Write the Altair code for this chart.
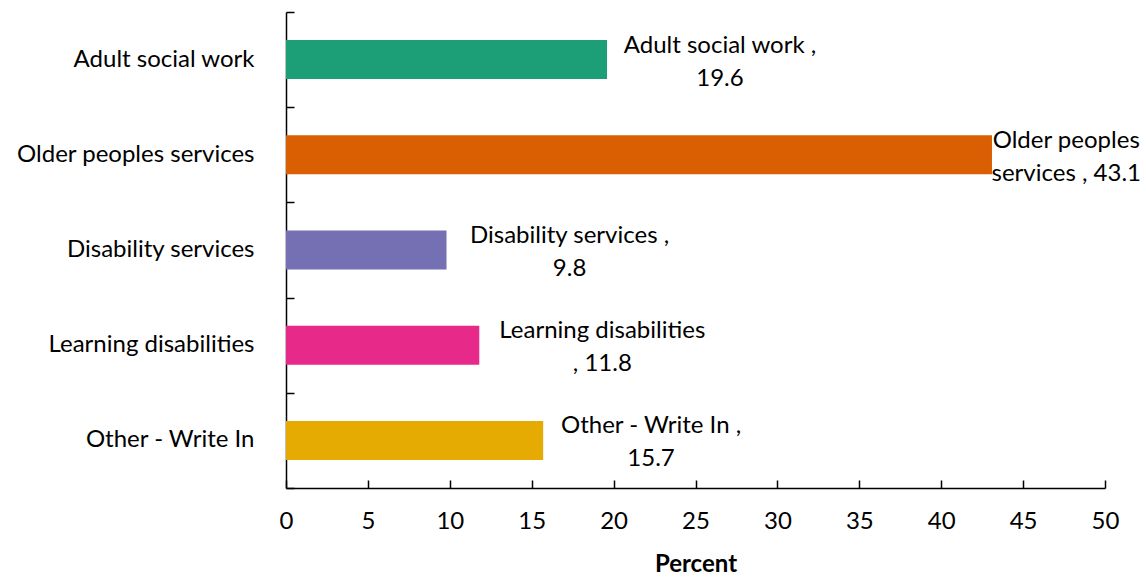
import altair as alt
import pandas as pd

categories = ["Adult social work", "Older peoples services", "Disability services",
              "Learning disabilities", "Other - Write In"]
values = [19.6, 43.1, 9.8, 11.8, 15.7]
label_line1 = ["Adult social work ,", "Older peoples", "Disability services ,",
               "Learning disabilities", "Other - Write In ,"]
label_line2 = ["19.6", "services , 43.1", "9.8", ", 11.8", "15.7"]
colors = ["#1c9e77", "#d95f02", "#7570b3", "#e7298a", "#e6ab02"]
x_ticks = [0, 5, 10, 15, 20, 25, 30, 35, 40, 45, 50]

FONT = "Lato"
FS = 24
W, H = 819, 476
PPU = W / 50.0  # pixels per percent unit
CHARW = 10.1    # estimated label character width in px

df = pd.DataFrame({"cat": categories, "value": values,
                   "line1": label_line1, "line2": label_line2})

yscale = alt.Scale(domain=categories, paddingInner=0, paddingOuter=0)
xscale = alt.Scale(domain=[0, 50], nice=False, clamp=False)

base = alt.Chart(df)

bars = base.mark_bar(size=39).encode(
    y=alt.Y("cat:N", sort=categories, scale=yscale,
            axis=alt.Axis(title=None, domain=True, domainColor="#000000", domainWidth=1.5,
                          ticks=False, tickSize=0, labelPadding=32, labelFontSize=FS,
                          labelFont=FONT, labelColor="#000000", labelLimit=400)),
    x=alt.X("value:Q", scale=xscale,
            axis=alt.Axis(values=x_ticks, title="Percent", grid=False, ticks=False, tickSize=0,
                          domain=True, domainColor="#000000", domainWidth=1.5,
                          labelFlush=False, labelOverlap=False,
                          labelPadding=21, labelFontSize=FS, labelFont=FONT,
                          labelColor="#000000", titleFont=FONT, titleFontSize=FS,
                          titleFontWeight="bold", titleColor="#000000", titlePadding=19)),
    color=alt.Color("cat:N", scale=alt.Scale(domain=categories, range=colors), legend=None),
)

tick_layer = base.mark_bar(size=39, opacity=0).encode(
    y=alt.Y("cat:N", sort=categories, scale=yscale,
            axis=alt.Axis(orient="left", offset=-8, title=None, labels=False, domain=False,
                          ticks=True, tickSize=8, tickBand="extent", tickColor="#000000",
                          tickWidth=1.5, grid=False)),
    x=alt.X("value:Q", scale=xscale,
            axis=alt.Axis(orient="bottom", offset=-8, values=x_ticks, title=None, labels=False,
                          domain=False, ticks=True, tickSize=8, tickColor="#000000",
                          tickWidth=1.5, grid=False)),
)

wexpr = f"{CHARW}*max(length(datum.line1), length(datum.line2))"
text_layer = base.transform_calculate(
    label="[datum.line1, datum.line2]",
    lx=f"min(datum.value + (17 + {wexpr}/2)/{PPU}, (856 - {wexpr}/2)/{PPU})",
).mark_text(align="center", baseline="middle", lineHeight=33, fontSize=FS, dy=-14,
            font=FONT, color="#000000").encode(
    y=alt.Y("cat:N", sort=categories, scale=yscale, axis=None),
    x=alt.X("lx:Q", scale=xscale, axis=None),
    text="label:N",
)

chart = alt.layer(bars, tick_layer, text_layer).resolve_axis(
    x="independent", y="independent"
).properties(
    width=W, height=H,
    autosize=alt.AutoSizeParams(type="none"),
    padding={"left": 286, "top": 12, "right": 41, "bottom": 91},
).configure(background="#ffffff").configure_view(stroke=None, strokeWidth=0)

chart.save("out.html", embed_options={"renderer": "svg", "actions": False})
